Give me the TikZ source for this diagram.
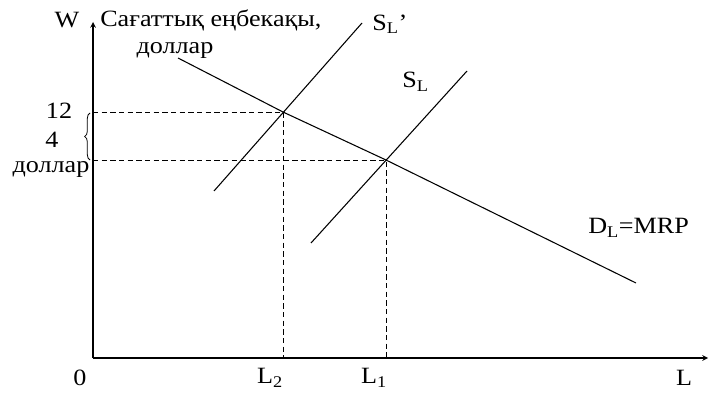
\documentclass[tikz,border=0pt]{standalone}
\usepackage{fontspec}
\setmainfont{Liberation Serif}[FakeStretch=1.12]
\usetikzlibrary{decorations.pathreplacing}

\begin{document}
\begin{tikzpicture}[>=stealth, x=0.75pt, y=-0.75pt, font=\fontsize{17.5}{20}\selectfont]
\useasboundingbox (0,0) rectangle (709,392);
\coordinate (origin) at (93,358);
\coordinate (wtop) at (93,22);
\coordinate (lend) at (708,358);
\coordinate (eleft) at (283,112);
\coordinate (eright) at (386,160);
\coordinate (dstart) at (178,58);
\coordinate (dend) at (636,283);
\coordinate (snewlow) at (214,191);
\coordinate (snewhigh) at (362,23);
\coordinate (slow) at (311,243);
\coordinate (shigh) at (467,71);
\draw[->, line width=0.9pt] (origin) -- (wtop);
\draw[->, line width=0.9pt] (origin) -- (lend);
\draw[line width=0.8pt] (dstart) -- (eleft) -- (eright) -- (dend);
\draw[line width=0.8pt] (snewlow) -- (snewhigh);
\draw[line width=0.8pt] (slow) -- (shigh);
\draw[dashed, dash pattern=on 4pt off 2.5pt, line width=0.7pt] (wtop |- eleft) -- (eleft) -- (eleft |- origin);
\draw[dashed, dash pattern=on 4pt off 2.5pt, line width=0.7pt] (wtop |- eright) -- (eright) -- (eright |- origin);
\draw[decorate, decoration={brace, amplitude=4pt}, line width=0.6pt] (90,160) -- (90,113);
\node (w) at (67,20) {W};
\node[anchor=west, inner sep=0pt] (wage) at (100,20) {Сағаттық еңбекақы,};
\node (wageunit) at (175,50) {доллар};
\node[anchor=west, inner sep=0pt] (snewlabel) at (372,24) {S\textsubscript{L}’};
\node[anchor=west, inner sep=0pt] (slabel) at (402,82) {S\textsubscript{L}};
\node[anchor=west, inner sep=0pt] (dlabel) at (588,228) {D\textsubscript{L}=MRP};
\node (twelve) at (59,111) {12};
\node (four) at (52,140) {4};
\node (dollar) at (51,169) {доллар};
\node (zero) at (80,378) {0};
\node (ltwo) at (270,378) {L\textsubscript{2}};
\node (lone) at (374,378) {L\textsubscript{1}};
\node (lax) at (684,378) {L};
\end{tikzpicture}
\end{document}
